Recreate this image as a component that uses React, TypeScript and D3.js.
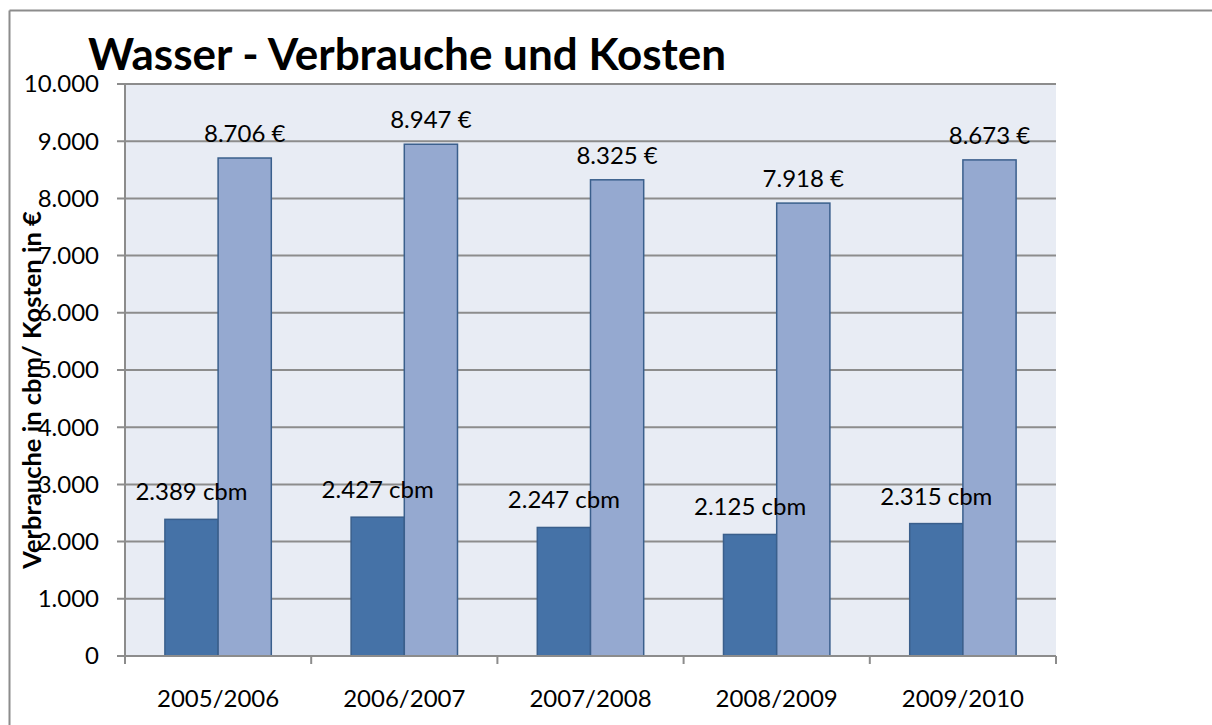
import React from "react";
import * as d3 from "d3";

const years = ["2005/2006", "2006/2007", "2007/2008", "2008/2009", "2009/2010"];
const verbrauch = [2389, 2427, 2247, 2125, 2315]; // cbm
const kosten = [8706, 8947, 8325, 7918, 8673]; // €
const yTicks = [0, 1000, 2000, 3000, 4000, 5000, 6000, 7000, 8000, 9000, 10000];

const title = "Wasser - Verbrauche und Kosten";
const yTitle = "Verbrauche in cbm/ Kosten in €";

const de = d3.formatLocale({ decimal: ",", thousands: ".", grouping: [3], currency: ["", " €"] });
const fmt = de.format(",.0f");

const W = 1212;
const H = 725;
const font = "Lato, 'Open Sans', sans-serif";

export default function App() {
  const margin = { top: 84, right: 156, bottom: 69, left: 125 };
  const plotW = W - margin.left - margin.right;
  const plotH = H - margin.top - margin.bottom;

  const x0 = d3.scaleBand().domain(years).range([0, plotW]).padding(0);
  const x1 = d3.scaleBand().domain(["v", "k"]).range([0, x0.bandwidth()]).paddingInner(0).paddingOuter(0.75);
  const y = d3.scaleLinear().domain([0, 10000]).range([plotH, 0]);

  const grid = "#8c8c8c";
  const boundaries = years.map((d) => x0(d)!).concat([plotW]);
  const fs = 24;

  return (
    <div style={{ position: "absolute", left: 0, top: 0 }}>
      <svg width={W} height={H} style={{ display: "block", background: "#fff" }}>
        {/* outer chart border: only top and left edges fall inside the picture */}
        <line x1={9.5} x2={W} y1={10.5} y2={10.5} stroke="#8c8c8c" strokeWidth={2} />
        <line x1={9.5} x2={9.5} y1={10.5} y2={H} stroke="#8c8c8c" strokeWidth={2} />

        <text x={88} y={70} fontFamily={font} fontWeight="bold" fontSize={44} fill="#000">
          {title}
        </text>

        <text
          transform={`translate(41,390) rotate(-90)`}
          textAnchor="middle"
          fontFamily={font}
          fontWeight="bold"
          fontSize={25.5}
          fill="#000"
        >
          {yTitle}
        </text>

        <g transform={`translate(${margin.left},${margin.top})`}>
          <rect x={0} y={0} width={plotW} height={plotH} fill="#e8ecf4" />

          {yTicks.map((t) => (
            <g key={t}>
              <line x1={-8} x2={t === 0 ? 0 : plotW} y1={y(t)} y2={y(t)} stroke={grid} strokeWidth={2} />
              <text
                x={-26}
                y={y(t)}
                dy="0.35em"
                textAnchor="end"
                fontFamily={font}
                fontSize={fs}
                fill="#000"
              >
                {fmt(t)}
              </text>
            </g>
          ))}

          {years.map((yr, i) => (
            <g key={yr} transform={`translate(${x0(yr)},0)`}>
              <rect
                x={x1("v")}
                y={y(verbrauch[i])}
                width={x1.bandwidth()}
                height={plotH - y(verbrauch[i])}
                fill="#4572a7"
                stroke="#3a5f8c"
                strokeWidth={1.5}
              />
              <rect
                x={x1("k")}
                y={y(kosten[i])}
                width={x1.bandwidth()}
                height={plotH - y(kosten[i])}
                fill="#95a9d0"
                stroke="#3a5f8c"
                strokeWidth={1.5}
              />
            </g>
          ))}

          {/* axes */}
          <line x1={0} x2={plotW} y1={plotH} y2={plotH} stroke={grid} strokeWidth={2} />
          <line x1={0} x2={0} y1={0} y2={plotH + 8} stroke={grid} strokeWidth={2} />
          {boundaries.map((b, i) => (
            <line key={i} x1={b} x2={b} y1={plotH} y2={plotH + 8} stroke={grid} strokeWidth={2} />
          ))}

          {years.map((yr, i) => (
            <g key={yr + "-l"} transform={`translate(${x0(yr)},0)`}>
              <text
                x={x1("v")! + x1.bandwidth() / 2}
                y={y(verbrauch[i]) - 19}
                textAnchor="middle"
                fontFamily={font}
                fontSize={fs}
                fill="#000"
              >
                {fmt(verbrauch[i]) + " cbm"}
              </text>
              <text
                x={x1("k")! + x1.bandwidth() / 2}
                y={y(kosten[i]) - 16}
                textAnchor="middle"
                fontFamily={font}
                fontSize={fs}
                fill="#000"
              >
                {fmt(kosten[i]) + " €"}
              </text>
              <text
                x={x0.bandwidth() / 2}
                y={plotH + 51}
                textAnchor="middle"
                fontFamily={font}
                fontSize={fs}
                fill="#000"
              >
                {yr}
              </text>
            </g>
          ))}
        </g>
      </svg>
    </div>
  );
}
